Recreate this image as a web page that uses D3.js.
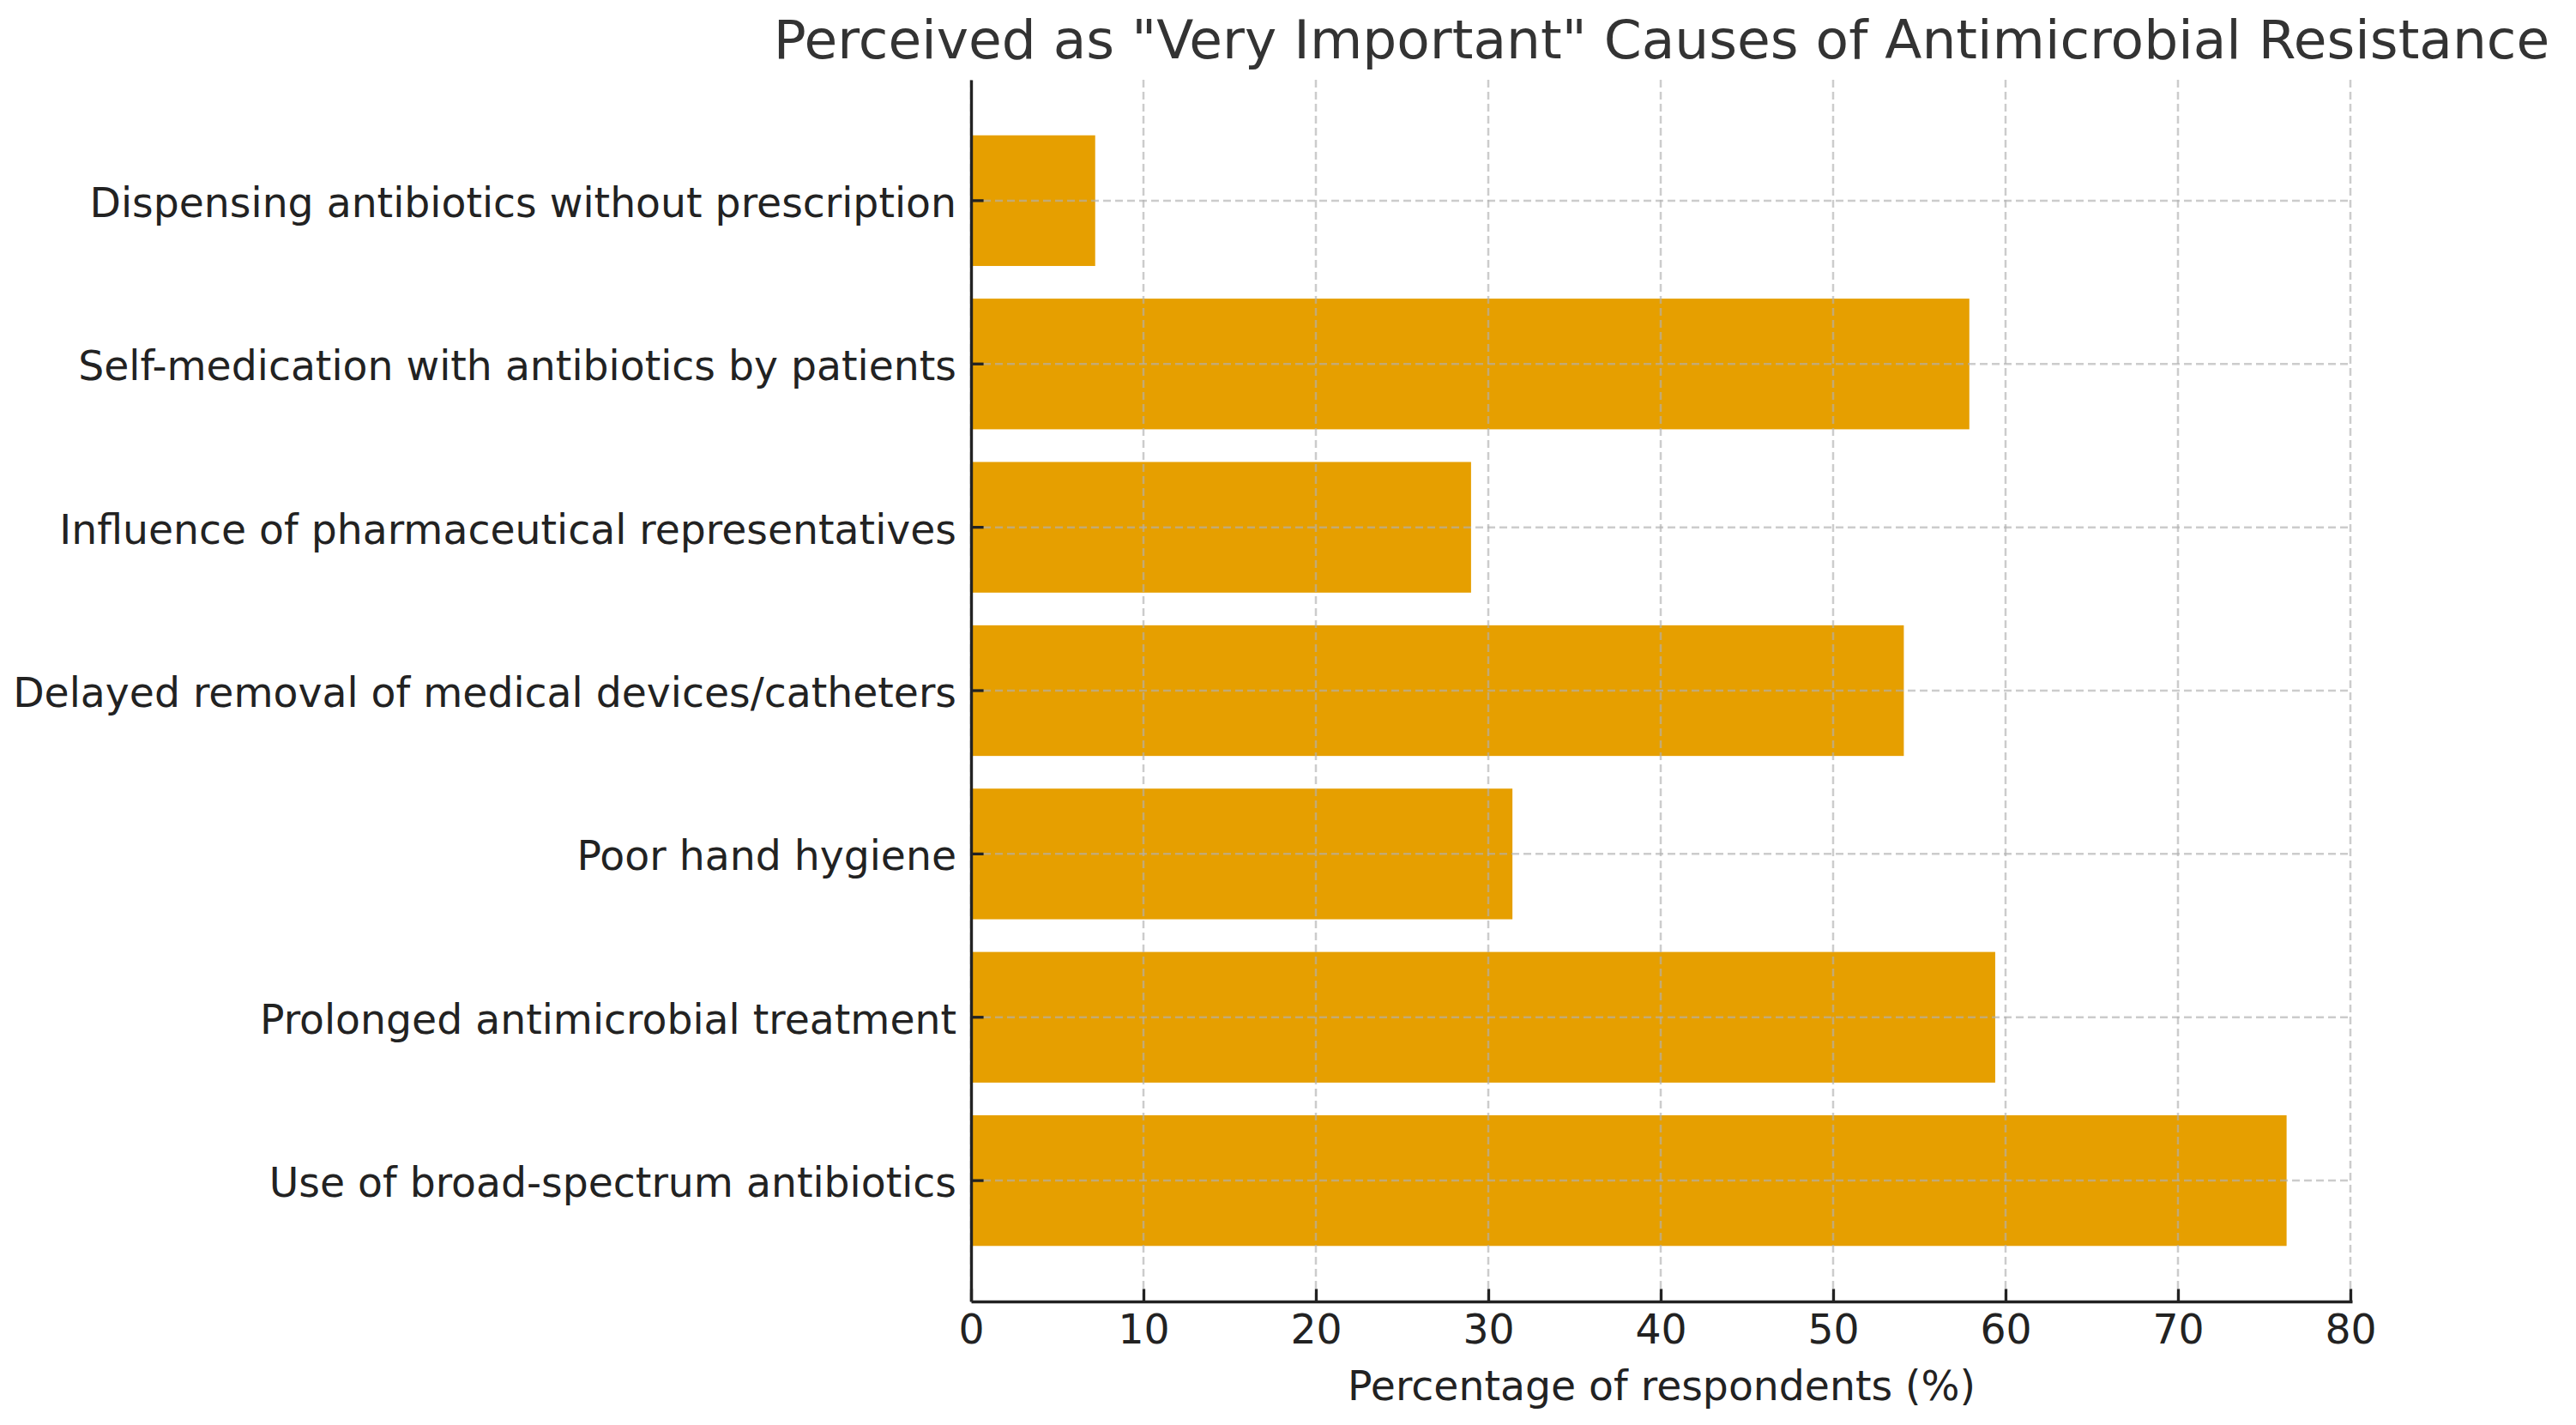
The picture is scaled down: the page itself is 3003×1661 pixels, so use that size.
<!DOCTYPE html>
<html>
<head>
<meta charset="utf-8">
<script src="https://cdn.jsdelivr.net/npm/d3@7"></script>
<style>
  body { margin: 0; background: #fff; }
  text { font-family: "DejaVu Sans", sans-serif; }
</style>
</head>
<body>
<div id="chart"></div>
<script>
// Plot constants
const WIDTH = 3003;
const HEIGHT = 1661;
const margin = { top: 93, right: 261, bottom: 144, left: 1132 };

// Data (top to bottom, as drawn)
const causes = [
  "Dispensing antibiotics without prescription",
  "Self-medication with antibiotics by patients",
  "Influence of pharmaceutical representatives",
  "Delayed removal of medical devices/catheters",
  "Poor hand hygiene",
  "Prolonged antimicrobial treatment",
  "Use of broad-spectrum antibiotics",
];
const percentages = [7.2, 57.9, 29.0, 54.1, 31.4, 59.4, 76.3];
const xTicks = [0, 10, 20, 30, 40, 50, 60, 70, 80];

const titleText = 'Perceived as "Very Important" Causes of Antimicrobial Resistance';
const xLabelText = "Percentage of respondents (%)";

const svg = d3
  .select("#chart")
  .append("svg")
  .attr("width", WIDTH)
  .attr("height", HEIGHT);

const innerW = WIDTH - margin.left - margin.right;
const innerH = HEIGHT - margin.top - margin.bottom;

const g = svg.append("g").attr("transform", `translate(${margin.left},${margin.top})`);

// Scales
const x = d3.scaleLinear().domain([0, 80.1]).range([0, innerW]);
const y = d3
  .scaleBand()
  .domain(causes)
  .range([0, innerH])
  .paddingInner(0.2)
  .paddingOuter(0.34);

// Bars
g.selectAll("rect.bar")
  .data(causes)
  .enter()
  .append("rect")
  .attr("class", "bar")
  .attr("x", x(0))
  .attr("y", d => y(d))
  .attr("width", (d, i) => x(percentages[i]) - x(0))
  .attr("height", y.bandwidth())
  .attr("fill", "#E69F00");

// Grid (drawn over bars, like matplotlib)
const grid = g.append("g").attr("class", "grid")
  .attr("stroke", "#b0b0b0")
  .attr("stroke-opacity", 0.65)
  .attr("stroke-width", 2.5)
  .attr("stroke-dasharray", "9,5");

grid.selectAll("line.v")
  .data(xTicks)
  .enter()
  .append("line")
  .attr("x1", d => x(d))
  .attr("x2", d => x(d))
  .attr("y1", 0)
  .attr("y2", innerH);

grid.selectAll("line.h")
  .data(causes)
  .enter()
  .append("line")
  .attr("x1", 0)
  .attr("x2", innerW)
  .attr("y1", d => y(d) + y.bandwidth() / 2)
  .attr("y2", d => y(d) + y.bandwidth() / 2);

// Axes
const xAxis = d3.axisBottom(x)
  .tickValues(xTicks)
  .tickSizeInner(-14.6)
  .tickSizeOuter(0)
  .tickPadding(15);

const yAxis = d3.axisLeft(y)
  .tickSizeInner(-14.6)
  .tickSizeOuter(0)
  .tickPadding(17);

const gx = g.append("g")
  .attr("transform", `translate(0,${innerH})`)
  .call(xAxis);

const gy = g.append("g").call(yAxis);

[gx, gy].forEach(a => {
  a.select(".domain").attr("stroke", "#222").attr("stroke-width", 3.4);
  a.selectAll(".tick line").attr("stroke", "#222").attr("stroke-width", 3.3);
  a.selectAll(".tick text")
    .attr("fill", "#222")
    .style("font-size", "47.3px")
    .style("font-family", '"DejaVu Sans", sans-serif');
});
gy.selectAll(".tick text").attr("dy", "0.4em");

// Labels
svg.append("text")
  .attr("x", margin.left + innerW / 2)
  .attr("y", 68)
  .attr("text-anchor", "middle")
  .attr("fill", "#333")
  .style("font-size", "63px")
  .text(titleText);

svg.append("text")
  .attr("x", margin.left + innerW / 2)
  .attr("y", 1632)
  .attr("text-anchor", "middle")
  .attr("fill", "#222")
  .style("font-size", "47.3px")
  .text(xLabelText);
</script>
</body>
</html>
